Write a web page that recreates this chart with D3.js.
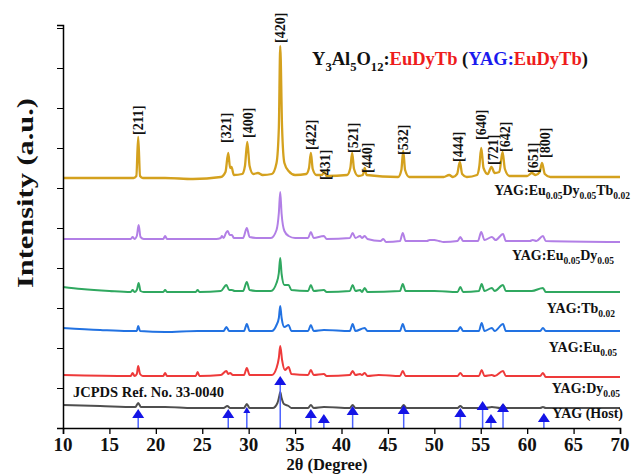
<!DOCTYPE html>
<html>
<head>
<meta charset="utf-8">
<script src="https://cdn.jsdelivr.net/npm/d3@7"></script>
<style>
  html, body { margin: 0; padding: 0; background: #fff; }
  svg { display: block; }
  text { font-family: "Liberation Serif", "Times New Roman", serif; font-weight: bold; }
</style>
</head>
<body>
<svg id="chart" width="638" height="475"></svg>
<script>
// XRD patterns, 2θ (degree) vs. intensity (a.u., stacked with offsets)
const goldPattern = [
  [10,250],[17.6,250],[17.9,252],[18.1,291],[18.3,252],[18.6,250],[21,250],[24,249],[27,251],
  [27.5,256],[27.8,275],[28.0,260],[28.15,261],[28.4,253],[29.3,254],[29.6,262],[29.85,286],[30.1,262],
  [30.5,254],[31.0,255],[31.5,253],[32.5,254],[33.0,265],[33.25,300],[33.4,382],[33.6,300],[33.85,265],
  [34.3,257],[35.0,253],[36.2,254],[36.5,260],[36.7,275],[36.9,259],[37.3,253],[37.9,253],[38.15,256],
  [38.4,252],[40.6,253],[40.95,260],[41.15,275],[41.35,259],[41.8,252],[42.3,253],[42.5,260],[42.7,253],
  [46.1,251],[46.45,258],[46.65,277],[46.85,258],[47.3,251],[51.0,251],[51.6,253],[52.0,251],[52.45,254],
  [52.75,266],[53.0,254],[53.5,251],[54.6,253],[54.85,262],[55.05,280],[55.3,260],[55.75,254],[56.15,261],
  [56.5,255],[57.0,256],[57.35,276],[57.6,259],[58.1,252],[60.0,252],[60.5,255],[60.9,253],[61.35,256],
  [61.6,265],[61.9,254],[62.5,251],[70,251]
];
const purplePattern = [
  [10,189],[17.3,189],[17.5,191],[17.7,189],[17.95,192],[18.15,203],[18.35,191],[18.7,189],[20.8,189],
  [21.0,192],[21.2,189],[26.5,189],[27.0,190],[27.1,192],[27.3,190],[27.55,195],[27.75,197],[27.95,193],
  [28.2,193],[28.4,190],[29.4,190],[29.8,200],[30.1,191],[31,190],[32.4,190],[33.0,198],[33.25,215],
  [33.4,236],[33.55,214],[33.85,197],[34.3,192],[35,190],[36.4,190],[36.7,196],[37.0,190],[38.1,192],
  [38.4,189],[40.9,190],[41.2,195],[41.5,190],[42.0,192],[42.2,190],[42.5,192],[42.8,189],[44.2,187],
  [44.5,189],[44.8,186],[46.3,187],[46.6,195],[46.9,187],[49.2,187],[49.5,188],[50.0,188],[50.5,187],
  [51,186],[52.5,187],[52.8,191],[53.1,187],[54.7,187],[55.05,196],[55.4,188],[56.2,191],[56.6,188],
  [57.4,194],[57.7,187],[60.3,187],[60.6,188],[61.0,187],[61.7,192],[62.0,187],[70,186]
];
const greenPattern = [
  [10,141],[12,139],[15,137],[17.3,136],[17.5,138],[17.7,136],[17.95,138],[18.15,145],[18.35,137],
  [18.7,136],[20.8,136],[21.0,138],[21.2,136],[24.3,136],[24.5,138],[24.7,136],[27.0,137],[27.6,143],
  [27.9,138],[28.2,138],[28.5,137],[29.4,137],[29.8,146],[30.1,138],[31,137],[32.4,137],[33.0,145],
  [33.25,155],[33.4,170],[33.55,154],[33.85,143],[34.3,143],[34.6,138],[36.4,137],[36.7,143],[37.0,137],
  [38.1,138],[38.4,136],[40.9,137],[41.2,143],[41.5,137],[42.0,138],[42.2,136],[42.5,140],[42.8,136],
  [46.3,137],[46.6,144],[46.9,137],[49.5,137],[50,137],[52.5,136],[52.8,141],[53.1,136],[54.8,137],
  [55.1,144],[55.4,137],[56.2,140],[56.5,137],[57.4,143],[57.7,137],[60.5,137],[61.7,140],[62.0,136],[70,136]
];
const bluePattern = [
  [10,100],[14,98],[17,97],[17.95,97],[18.1,102],[18.3,97],[21,96],[24.5,97],[27.3,97],[27.6,101],
  [27.9,97],[29.5,97],[29.8,104],[30.1,97],[32.5,97],[33.0,103],[33.25,110],[33.4,122],[33.55,110],
  [33.85,101],[34.3,103],[34.6,97],[36.4,97],[36.7,103],[37.0,97],[38.1,98],[40.9,97],[41.2,104],
  [41.5,97],[42.5,100],[42.8,97],[46.3,97],[46.6,104],[46.9,97],[52.5,97],[52.8,101],[53.1,97],
  [54.8,97],[55.1,105],[55.4,97],[56.2,100],[56.5,97],[57.4,104],[57.7,97],[61.4,97],[61.7,100],
  [62.0,97],[70,97]
];
const redPattern = [
  [10,53],[17.3,52],[17.5,55],[17.7,52],[17.95,54],[18.1,62],[18.3,54],[18.6,52],[20.8,52],[21.0,55],
  [21.2,52],[24.3,52],[24.5,56],[24.7,52],[27.0,53],[27.6,57],[27.8,54],[28.0,55],[28.3,53],[29.5,53],
  [29.8,60],[30.1,53],[32.5,53],[33.0,60],[33.25,70],[33.4,82],[33.6,68],[33.9,58],[34.3,61],[34.6,54],
  [36.4,53],[36.7,58],[37.0,53],[38.1,54],[38.4,52],[40.9,53],[41.2,57],[41.5,53],[42.0,54],[42.2,53],
  [42.5,55],[42.8,52],[44.0,53],[46.3,52],[46.6,57],[46.9,52],[52.5,52],[52.8,55],[53.1,52],[54.8,52],
  [55.1,58],[55.4,52],[56.2,53],[56.5,52],[57.4,57],[57.7,52],[61.4,52],[61.7,55],[62.0,51],[70,51]
];
const grayPattern = [
  [10,23],[14,22],[17.8,21],[18.1,25],[18.4,21],[21,21],[24,20],[27.3,20],[27.7,22],[28.0,20],
  [29.5,20],[29.8,24],[30.1,20],[32.6,20],[33.1,25],[33.3,32],[33.4,36],[33.55,30],[33.8,24],[34.3,22],
  [34.6,20],[36.4,20],[36.7,23],[37.0,20],[38.1,21],[40.9,20],[41.2,23],[41.5,20],[46.4,20],[46.7,23],
  [47.0,20],[52.5,20],[52.8,22],[53.1,20],[54.9,20],[55.2,24],[55.5,20],[56.2,21],[57.1,20],[57.4,23],
  [57.7,20],[61.4,20],[61.7,21],[62.0,20],[70,20]
];

// JCPDS 33-0040 reference lines: 2θ and marker height (a.u.)
const refAngles  = [18.1, 27.8, 29.8, 33.4, 36.7, 38.1, 41.2, 46.7, 52.8, 55.2, 56.1, 57.4, 61.8];
const refHeights = [10, 10, 15, 43, 10, 5, 13, 14, 11, 18, 5, 16, 6];

// Miller index labels over the top pattern: text, 2θ, label bottom (a.u.)
const hklLabels = ["[211]","[321]","[400]","[420]","[422]","[431]","[521]","[440]","[532]","[444]","[640]","[721]","[642]","[651]","[800]"];
const hklAngles = [18.1, 27.6, 29.9, 33.4, 36.7, 38.2, 41.2, 42.7, 46.6, 52.6, 55.0, 56.3, 57.6, 60.6, 61.9];
const hklBottoms = [293, 285, 290, 385, 278, 248, 275, 255, 273, 266, 288, 263, 276, 255, 270];

const xTicks = [10, 15, 20, 25, 30, 35, 40, 45, 50, 55, 60, 65, 70];

const svg = d3.select("#chart");
const x = d3.scaleLinear().domain([10, 70]).range([63, 620]);
const y = d3.scaleLinear().domain([0, 403]).range([428, 25]);

// stacked patterns
const line = d3.line().x(d => x(d[0])).y(d => y(d[1])).curve(d3.curveMonotoneX);
const patterns = [
  [goldPattern, "#d4a11e", 2.3],
  [purplePattern, "#b27fe6", 2],
  [greenPattern, "#30a860", 2],
  [bluePattern, "#2272e2", 2],
  [redPattern, "#ee3a3a", 2],
  [grayPattern, "#4f4f4f", 2]
];
svg.append("g").selectAll("path").data(patterns).join("path")
  .attr("d", d => line(d[0]))
  .attr("fill", "none")
  .attr("stroke", d => d[1])
  .attr("stroke-width", d => d[2])
  .attr("stroke-linejoin", "round");

// reference stick lines with triangle markers
const refs = refAngles.map((a, i) => ({ a, h: refHeights[i], small: a === 29.8 }));
const rg = svg.append("g");
rg.selectAll("line").data(refs).join("line")
  .attr("x1", d => x(d.a)).attr("x2", d => x(d.a))
  .attr("y1", y(0)).attr("y2", d => y(d.h))
  .attr("stroke", "#4b62ff").attr("stroke-width", 1.5);
rg.selectAll("path").data(refs).join("path")
  .attr("d", d => {
    const cx = x(d.a), by = y(d.h), w = d.small ? 3.5 : 6, h = d.small ? 6 : 9;
    return `M${cx - w},${by}L${cx + w},${by}L${cx},${by - h}Z`;
  })
  .attr("fill", "#1414e6");

// axes
const xAxis = d3.axisBottom(x).tickValues(xTicks).tickSize(6).tickFormat("");
const xMinor = d3.axisBottom(x).tickValues(d3.range(10, 70.01, 0.5)).tickSize(3).tickFormat("");
const gx = svg.append("g").attr("transform", `translate(0,${y(0)})`);
gx.call(xMinor);
gx.call(xAxis);
gx.selectAll("g.tick text").remove();
gx.selectAll("path.domain").attr("stroke-width", 1.5);
gx.selectAll("line").attr("stroke-width", 1.3);
svg.append("g").selectAll("text").data(xTicks).join("text")
  .attr("x", d => x(d)).attr("y", 451)
  .attr("text-anchor", "middle").attr("font-size", 19).attr("fill", "#111")
  .text(d => d);

const yMajor = d3.range(0, 404, 40);
const yAxis = d3.axisLeft(y).tickValues(yMajor).tickSize(6).tickFormat("");
const yMinor = d3.axisLeft(y).tickValues(d3.range(0, 404, 4)).tickSize(3).tickFormat("");
const gy = svg.append("g").attr("transform", `translate(${x(10)},0)`);
gy.call(yMinor);
gy.call(yAxis);
gy.selectAll("g.tick text").remove();
gy.selectAll("path.domain").attr("stroke-width", 1.5);

// axis titles
svg.append("text")
  .attr("x", 327).attr("y", 470).attr("text-anchor", "middle")
  .attr("font-size", 16.5).attr("fill", "#111").text("2θ (Degree)");
svg.append("text")
  .attr("transform", "translate(33,193) rotate(-90)").attr("text-anchor", "middle")
  .attr("font-size", 24).attr("fill", "#111")
  .attr("textLength", 190).attr("lengthAdjust", "spacingAndGlyphs")
  .text("Intensity (a.u.)");

// Miller indices
svg.append("g").selectAll("text").data(hklLabels).join("text")
  .attr("transform", (d, i) => `translate(${x(hklAngles[i]) + 5},${y(hklBottoms[i])}) rotate(-90)`)
  .attr("font-size", 14).attr("fill", "#111")
  .text(d => d);

// label with subscripts; the tspan after a subscript restores the baseline
function richText(g, parts, size) {
  const t = g.append("text").attr("font-size", size).attr("fill", "#111");
  let shift = 0;
  parts.forEach(([s, sub, color]) => {
    t.append("tspan").attr("fill", color || "#111").attr("dy", -shift).text(s);
    shift = 0;
    if (sub) {
      shift = size * 0.3;
      t.append("tspan").attr("font-size", size * 0.68).attr("dy", shift).attr("fill", color || "#111").text(sub);
    }
  });
  return t;
}

// chart title
const title = svg.append("g").attr("transform", "translate(312,65)");
richText(title, [["Y", "3"], ["Al", "5"], ["O", "12"], [":", null], ["EuDyTb", null, "#ee1c1c"], [" (", null], ["YAG:", null, "#1a1aee"], ["EuDyTb", null, "#ee1c1c"], [")", null]], 18.5);

// pattern labels (right-aligned)
const labels = [
  { parts: [["YAG:Eu", "0.05"], ["Dy", "0.05"], ["Tb", "0.02"]], right: 630, base: 195 },
  { parts: [["YAG:Eu", "0.05"], ["Dy", "0.05"]], right: 614, base: 260 },
  { parts: [["YAG:Tb", "0.02"]], right: 615, base: 313 },
  { parts: [["YAG:Eu", "0.05"]], right: 617, base: 352 },
  { parts: [["YAG:Dy", "0.05"]], right: 620, base: 393 },
  { parts: [["YAG (Host)", null]], right: 623, base: 418 }
];
labels.forEach(l => {
  const g = svg.append("g");
  const t = richText(g, l.parts, 14);
  const w = t.node().getComputedTextLength();
  g.attr("transform", `translate(${l.right - w},${l.base})`);
});
const jc = svg.append("g").attr("transform", "translate(73,397)");
richText(jc, [["JCPDS Ref. No. 33-0040", null]], 14.5);
</script>
</body>
</html>
